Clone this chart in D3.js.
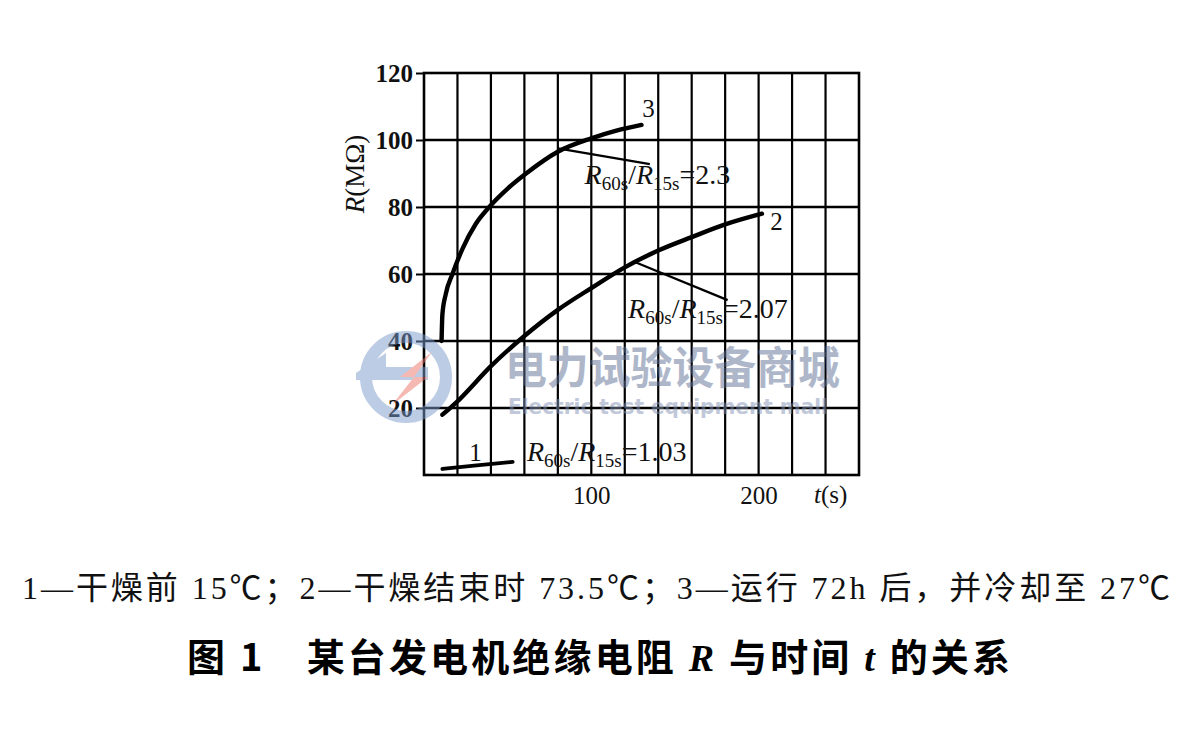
<!DOCTYPE html>
<html><head><meta charset="utf-8">
<script src="https://cdn.jsdelivr.net/npm/d3@7"></script>
<style>
html,body{margin:0;padding:0;background:#fff;}
svg{display:block;}
</style></head>
<body>
<svg id="c" width="1198" height="756"></svg>
<script>
// ---- data ----
const xTickValues = [100, 200];
const yTickValues = [20, 40, 60, 80, 100, 120];
const curve1 = [[11, 1.8], [30, 2.8], [53, 3.9]];
const curve2 = [[11, 18], [20, 22], [40, 32.5], [60, 41.5], [80, 49.3], [100, 55.8], [120, 62], [140, 67], [160, 71], [180, 74.8], [202, 78]];
const curve3 = [[10.5, 40], [11, 48], [13, 54], [17, 60], [23, 67.5], [31, 75], [39, 80], [50, 85.5], [61, 90], [80, 96.5], [100, 100.5], [115, 102.8], [130, 104.5]];
const curveNames = ["1", "2", "3"];
const ratioValues = ["1.03", "2.07", "2.3"];
const captionText = "1—干燥前 15℃；2—干燥结束时 73.5℃；3—运行 72h 后，并冷却至 27℃";

// ---- layout ----
const svg = d3.select("#c");
const W = 1198, H = 756;
const x = d3.scaleLinear().domain([0, 260]).range([424, 859]);
const y = d3.scaleLinear().domain([0, 120]).range([475, 73]);
const serif = "'Liberation Serif','Times New Roman',serif";
const cjk = "'Noto Sans CJK SC','Noto Sans',sans-serif";

svg.append("rect").attr("width", W).attr("height", H).attr("fill", "#fff");

// grid
const g = svg.append("g");
g.selectAll("line.v").data(d3.range(20, 260, 20)).enter().append("line")
  .attr("x1", d => x(d)).attr("x2", d => x(d)).attr("y1", y(120)).attr("y2", y(0))
  .attr("stroke", "#000").attr("stroke-width", 2.2);
g.selectAll("line.h").data(d3.range(20, 120, 20)).enter().append("line")
  .attr("x1", x(0)).attr("x2", x(260)).attr("y1", d => y(d)).attr("y2", d => y(d))
  .attr("stroke", "#000").attr("stroke-width", 2.4);
g.append("rect").attr("x", x(0)).attr("y", y(120)).attr("width", x(260) - x(0)).attr("height", y(0) - y(120))
  .attr("fill", "none").attr("stroke", "#000").attr("stroke-width", 2.6);

// y axis ticks & labels
const yAxis = d3.axisLeft(y).tickValues(yTickValues).tickSize(8).tickPadding(3);
const ya = svg.append("g").attr("transform", `translate(${x(0)},0)`).call(yAxis);
ya.select(".domain").remove();
ya.selectAll("line").attr("stroke", "#000").attr("stroke-width", 2);
ya.selectAll("text").attr("font-family", serif).attr("font-size", 25).attr("font-weight", "bold").attr("fill", "#111").attr("dy", "0.34em");

// x axis labels
const xAxis = d3.axisBottom(x).tickValues(xTickValues).tickSize(0).tickPadding(8);
const xa = svg.append("g").attr("transform", `translate(0,${y(0)})`).call(xAxis);
xa.select(".domain").remove();
xa.selectAll("text").attr("font-family", serif).attr("font-size", 25).attr("fill", "#111").attr("dy", "0.85em");

// axis titles
const tt = svg.append("text").attr("x", 814).attr("y", 503).attr("font-family", serif).attr("font-size", 25).attr("fill", "#111");
tt.append("tspan").attr("font-style", "italic").text("t");
tt.append("tspan").text("(s)");
const yt = svg.append("text").attr("transform", "translate(364,174) rotate(-90)").attr("text-anchor", "middle")
  .attr("font-family", serif).attr("font-size", 27).attr("fill", "#111");
yt.append("tspan").attr("font-style", "italic").text("R");
yt.append("tspan").text("(MΩ)");

// watermark
const wm = svg.append("g").attr("opacity", 0.5);
wm.append("circle").attr("cx", 406).attr("cy", 377).attr("r", 40).attr("fill", "none").attr("stroke", "#7d9bcc").attr("stroke-width", 12);
wm.append("path").attr("d", "M356,373 L386,353 L386,367 L428,367 L428,380 L356,380 Z").attr("fill", "#7d9bcc");
wm.append("path").attr("d", "M432,352 L400,377 L414,377 L392,405 L428,377 L414,377 Z").attr("fill", "#ec7468");
wm.append("text").attr("x", 505).attr("y", 384).attr("font-family", cjk).attr("font-weight", "bold").attr("font-size", 44)
  .attr("textLength", 335).attr("lengthAdjust", "spacingAndGlyphs").attr("fill", "#5f7196").text("电力试验设备商城");
wm.append("text").attr("x", 508).attr("y", 414).attr("font-family", "'DejaVu Sans',sans-serif").attr("font-weight", "bold").attr("font-size", 21)
  .attr("textLength", 320).attr("lengthAdjust", "spacingAndGlyphs").attr("fill", "#8292b4").text("Electric test equipment mall");

// curves
const line = d3.line().x(d => x(d[0])).y(d => y(d[1])).curve(d3.curveMonotoneX);
[curve1, curve2, curve3].forEach((c, i) => {
  svg.append("path").attr("d", line(c)).attr("fill", "none").attr("stroke", "#000")
    .attr("stroke-width", i === 0 ? 3.8 : 4.4).attr("stroke-linecap", "round");
});

// leader lines
const leaders = [[[80, 97.5], [135, 92.8]], [[126, 63.6], [181.5, 52.2]]];
leaders.forEach(l => {
  svg.append("line").attr("x1", x(l[0][0])).attr("y1", y(l[0][1])).attr("x2", x(l[1][0])).attr("y2", y(l[1][1]))
    .attr("stroke", "#000").attr("stroke-width", 2.2);
});

// curve number labels
const numPos = [[27, 4.2], [207, 73], [130.5, 107]];
curveNames.forEach((n, i) => {
  svg.append("text").attr("x", x(numPos[i][0])).attr("y", y(numPos[i][1])).attr("font-family", serif)
    .attr("font-size", 25).attr("fill", "#111").text(n);
});

// ratio labels
const ratioPos = [[61.5, 4.2], [122, 46.9], [96, 86.9]];
ratioValues.forEach((v, i) => {
  const t = svg.append("text").attr("x", x(ratioPos[i][0])).attr("y", y(ratioPos[i][1]))
    .attr("font-family", serif).attr("font-size", 28).attr("fill", "#111");
  t.append("tspan").attr("font-style", "italic").text("R");
  t.append("tspan").attr("font-size", 19).attr("dy", 6).text("60s");
  t.append("tspan").attr("dy", -6).text("/");
  t.append("tspan").attr("font-style", "italic").text("R");
  t.append("tspan").attr("font-size", 19).attr("dy", 6).text("15s");
  t.append("tspan").attr("dy", -6).text("=" + v);
});

// caption
svg.append("text").attr("x", 22).attr("y", 599).attr("font-family", serif + "," + cjk).attr("font-size", 32)
  .attr("textLength", 1148).attr("lengthAdjust", "spacing").attr("fill", "#111").text(captionText);

// title
const ti = svg.append("text").attr("x", 187).attr("y", 671).attr("font-family", cjk).attr("font-weight", "bold")
  .attr("font-size", 38).attr("textLength", 823).attr("lengthAdjust", "spacing").attr("fill", "#000");
ti.append("tspan").text("图 1　某台发电机绝缘电阻 ");
ti.append("tspan").attr("font-family", serif).attr("font-style", "italic").text("R");
ti.append("tspan").text(" 与时间 ");
ti.append("tspan").attr("font-family", serif).attr("font-style", "italic").text("t");
ti.append("tspan").text(" 的关系");
</script>
</body></html>
